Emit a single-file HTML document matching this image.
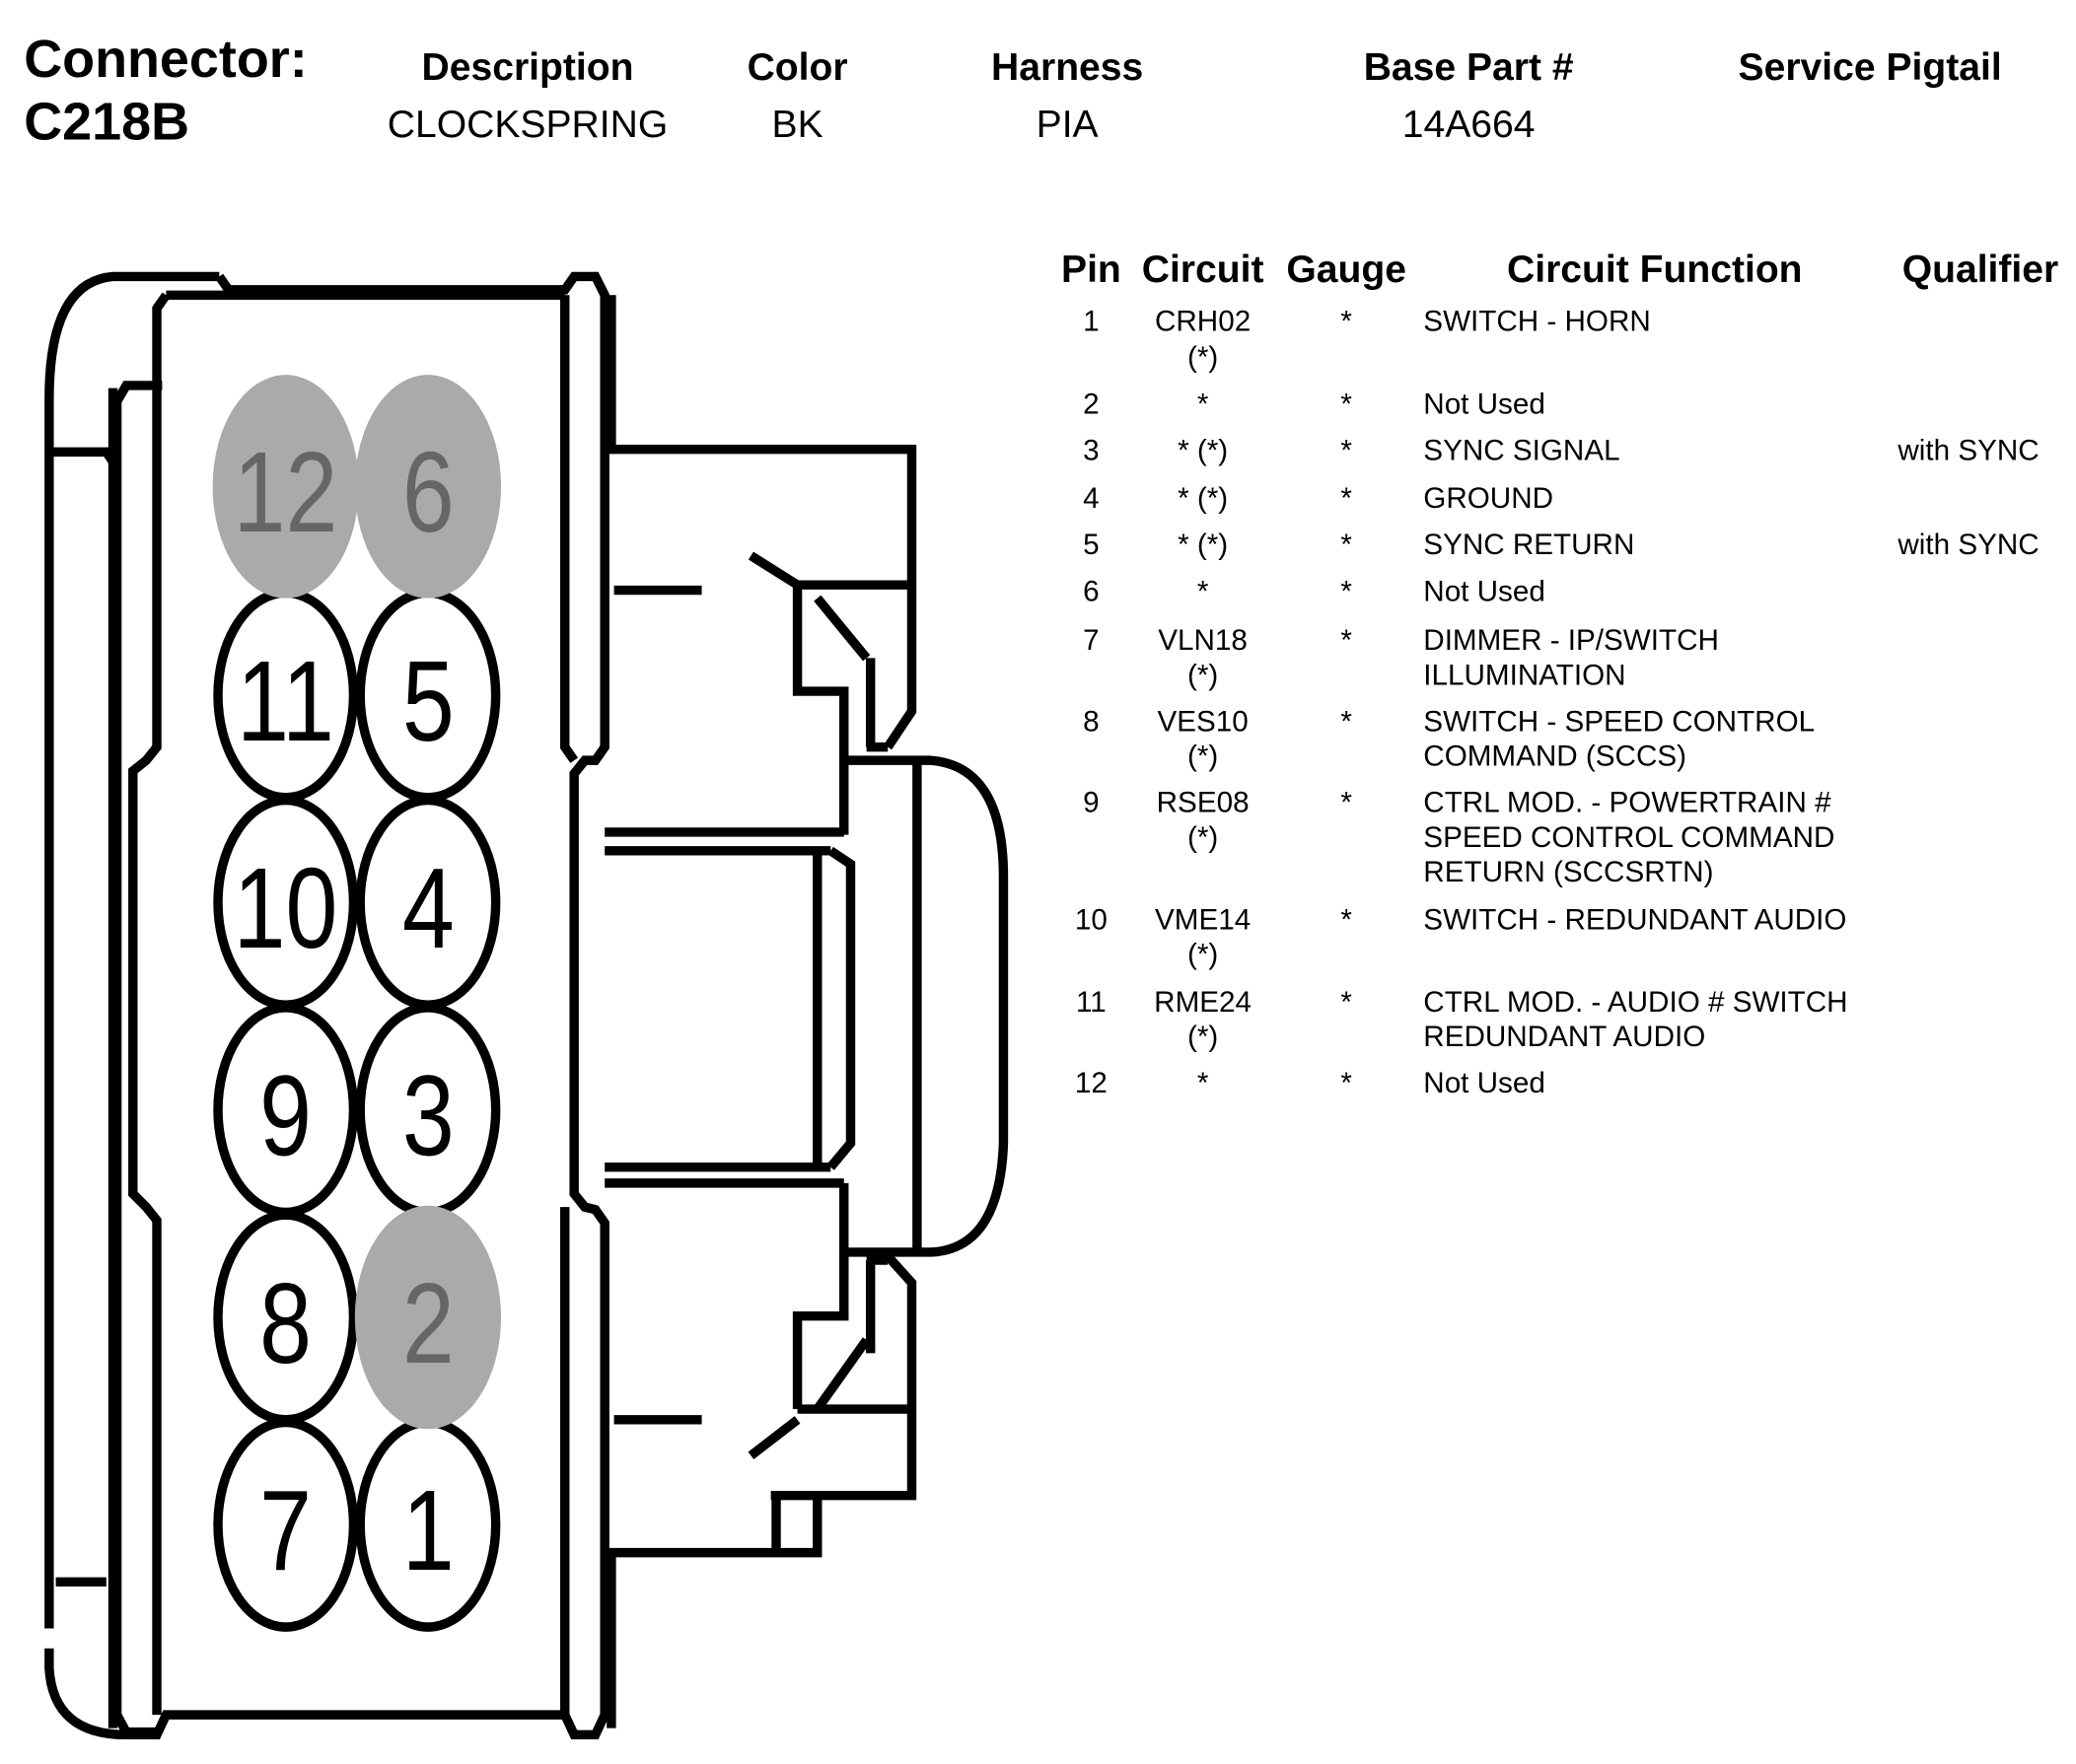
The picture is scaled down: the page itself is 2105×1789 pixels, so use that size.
<!DOCTYPE html>
<html><head><meta charset="utf-8"><style>
html,body{margin:0;padding:0;background:#fff;}
svg{display:block;}
text{font-family:"Liberation Sans",Arial,sans-serif;fill:#000;}
.b{font-weight:bold;}
</style></head><body>
<svg width="2105" height="1789" viewBox="0 0 1562 1327" preserveAspectRatio="none" xmlns="http://www.w3.org/2000/svg">
<rect width="1562" height="1327" fill="#fff"/>
<!-- header -->
<text x="18" y="58" font-size="40" class="b">Connector:</text>
<text x="18" y="105" font-size="40" class="b">C218B</text>
<g font-size="29" text-anchor="middle">
<text x="397" y="60" class="b">Description</text>
<text x="600" y="60" class="b">Color</text>
<text x="803" y="60" class="b">Harness</text>
<text x="1105" y="60" class="b">Base Part #</text>
<text x="1407" y="60" class="b">Service Pigtail</text>
<text x="397" y="103">CLOCKSPRING</text>
<text x="600" y="103">BK</text>
<text x="803" y="103">PIA</text>
<text x="1105" y="103">14A664</text>
</g>
<!-- table -->
<g font-size="29" class="b" text-anchor="middle">
<text x="821" y="212" class="b">Pin</text>
<text x="905" y="212" class="b">Circuit</text>
<text x="1013" y="212" class="b">Gauge</text>
<text x="1245" y="212" class="b">Circuit Function</text>
<text x="1490" y="212" class="b">Qualifier</text>
</g>
<g font-size="22" text-anchor="middle">
<text x="821" y="249">1</text><text x="905" y="249">CRH02</text><text x="905" y="276">(*)</text><text x="1013" y="249">*</text>
<text x="821" y="311">2</text><text x="905" y="311">*</text><text x="1013" y="311">*</text>
<text x="821" y="346">3</text><text x="905" y="346">* (*)</text><text x="1013" y="346">*</text>
<text x="821" y="382">4</text><text x="905" y="382">* (*)</text><text x="1013" y="382">*</text>
<text x="821" y="417">5</text><text x="905" y="417">* (*)</text><text x="1013" y="417">*</text>
<text x="821" y="452">6</text><text x="905" y="452">*</text><text x="1013" y="452">*</text>
<text x="821" y="489">7</text><text x="905" y="489">VLN18</text><text x="905" y="515">(*)</text><text x="1013" y="489">*</text>
<text x="821" y="550">8</text><text x="905" y="550">VES10</text><text x="905" y="576">(*)</text><text x="1013" y="550">*</text>
<text x="821" y="611">9</text><text x="905" y="611">RSE08</text><text x="905" y="637">(*)</text><text x="1013" y="611">*</text>
<text x="821" y="699">10</text><text x="905" y="699">VME14</text><text x="905" y="725">(*)</text><text x="1013" y="699">*</text>
<text x="821" y="761">11</text><text x="905" y="761">RME24</text><text x="905" y="787">(*)</text><text x="1013" y="761">*</text>
<text x="821" y="822">12</text><text x="905" y="822">*</text><text x="1013" y="822">*</text>
</g>
<g font-size="22">
<text x="1071" y="249">SWITCH - HORN</text>
<text x="1071" y="311">Not Used</text>
<text x="1071" y="346">SYNC SIGNAL</text><text x="1428" y="346">with SYNC</text>
<text x="1071" y="382">GROUND</text>
<text x="1071" y="417">SYNC RETURN</text><text x="1428" y="417">with SYNC</text>
<text x="1071" y="452">Not Used</text>
<text x="1071" y="489">DIMMER - IP/SWITCH</text><text x="1071" y="515">ILLUMINATION</text>
<text x="1071" y="550">SWITCH - SPEED CONTROL</text><text x="1071" y="576">COMMAND (SCCS)</text>
<text x="1071" y="611">CTRL MOD. - POWERTRAIN #</text><text x="1071" y="637">SPEED CONTROL COMMAND</text><text x="1071" y="663">RETURN (SCCSRTN)</text>
<text x="1071" y="699">SWITCH - REDUNDANT AUDIO</text>
<text x="1071" y="761">CTRL MOD. - AUDIO # SWITCH</text><text x="1071" y="787">REDUNDANT AUDIO</text>
<text x="1071" y="822">Not Used</text>
</g>
<!-- connector drawing -->
<g fill="none" stroke="#000" stroke-width="7" stroke-linejoin="miter">
<!-- outer left -->
<path d="M165,208 H85 Q37,212 37,300 V1225"/>
<path d="M37,1240 V1255 Q40,1305 95,1305 H115"/>
<path d="M37,340 H80 L88,352"/>
<path d="M42,1190 H80"/>
<!-- second layer -->
<path d="M122,290 H95 L88,302 V1290 L95,1303 H120"/>
<path d="M85,292 V1300"/>
<!-- main body -->
<path d="M165,208 L172,218 H425 L432,208 H448 L455,222 V562 L448,572 L440,572 L432,582 V898 L440,908 L448,910 L455,920 V1290 L448,1305 H432 L425,1290 H125 L118,1305 H100"/>
<path d="M125,222 L118,232 V562 L110,572 L100,580 V898 L110,908 L118,918 V1290"/>
<path d="M425,222 V562 L432,572"/>
<path d="M425,908 V1290"/>
<path d="M125,222 H425"/>
<!-- top housing -->
<path d="M460,222 V338 H686 V535 L668,562"/>
<path d="M652,562 H668"/>
<path d="M655,495 V562"/>
<path d="M615,450 L652,495"/>
<path d="M600,440 H686"/>
<path d="M600,440 V520 H635 V628"/>
<path d="M565,418 L600,440"/>
<path d="M462,444 H528"/>
<!-- plug -->
<path d="M635,572 H700 Q755,576 755,660 V860 Q752,940 700,942 H635"/>
<path d="M690,572 V942"/>
<path d="M455,626 H635"/>
<path d="M455,640 H625"/>
<path d="M455,878 H625"/>
<path d="M455,890 H635"/>
<path d="M615,640 V878"/>
<path d="M625,640 L640,650 V860 L625,878"/>
<path d="M635,890 V960"/>
<!-- bottom housing -->
<path d="M460,1300 V1168 H615 V1125"/>
<path d="M584,1125 V1168"/>
<path d="M580,1125 H686 V965 L668,945"/>
<path d="M652,948 H668"/>
<path d="M655,948 V1018"/>
<path d="M615,1060 L652,1008"/>
<path d="M600,1060 H686"/>
<path d="M600,1060 V990 H635 V945"/>
<path d="M565,1095 L600,1068"/>
<path d="M462,1068 H528"/>
</g>
<!-- pins -->
<g stroke="#000" stroke-width="7" fill="#fff">
<ellipse cx="215" cy="523" rx="51" ry="77"/>
<ellipse cx="322" cy="523" rx="51" ry="77"/>
<ellipse cx="215" cy="679" rx="51" ry="77"/>
<ellipse cx="322" cy="679" rx="51" ry="77"/>
<ellipse cx="215" cy="835" rx="51" ry="77"/>
<ellipse cx="322" cy="835" rx="51" ry="77"/>
<ellipse cx="215" cy="991" rx="51" ry="77"/>
<ellipse cx="215" cy="1147" rx="51" ry="77"/>
<ellipse cx="322" cy="1147" rx="51" ry="77"/>
</g>
<g fill="#aaa">
<ellipse cx="215" cy="366" rx="55" ry="84"/>
<ellipse cx="322" cy="366" rx="55" ry="84"/>
<ellipse cx="322" cy="991" rx="55" ry="84"/>
</g>
<g font-size="86" text-anchor="middle" transform="scale(0.82,1)">
<text x="262" y="400" style="fill:#666">12</text>
<text x="393" y="400" style="fill:#666">6</text>
<text x="262" y="557">11</text><text x="393" y="557">5</text>
<text x="262" y="713">10</text><text x="393" y="713">4</text>
<text x="262" y="869">9</text><text x="393" y="869">3</text>
<text x="262" y="1025">8</text><text x="393" y="1025" style="fill:#666">2</text>
<text x="262" y="1181">7</text><text x="393" y="1181">1</text>
</g>
</svg>
</body></html>
